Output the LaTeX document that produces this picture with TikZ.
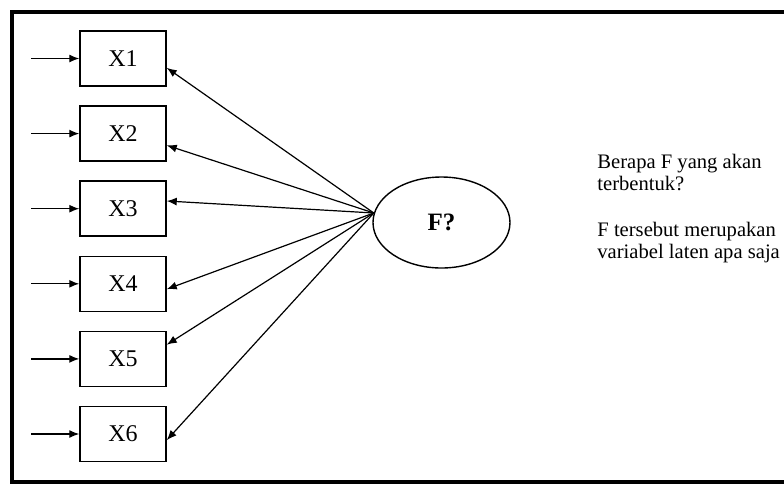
\documentclass[tikz,border=0pt]{standalone}
\usepackage{fontspec}
\setmainfont{Liberation Serif}
\usetikzlibrary{positioning, arrows.meta, shapes.geometric}

\begin{document}
\begin{tikzpicture}[
  x=0.5pt, y=-0.5pt,
  node distance=9.3pt,
  box/.style={draw, line width=0.75pt, minimum width=43pt, minimum height=27.5pt, inner sep=0pt, font=\fontsize{12}{14}\selectfont},
  latent/.style={draw, ellipse, line width=0.7pt, minimum width=68.5pt, minimum height=45.5pt, font=\fontsize{12.5}{15}\selectfont\bfseries},
  note/.style={align=left, inner sep=0pt, font=\fontsize{10.3}{11}\selectfont},
  arrow/.style={-{Latex[length=5pt, width=4pt]}, line width=0.6pt}
]
  \useasboundingbox (0,0) rectangle (784,484);
  % Frame
  \draw[line width=2pt] (784,12) -- (12,12) -- (12,482) -- (784,482);

  % Nodes
  \node[box] (x1) at (123,58.5) {X1};
  \node[box] (x2) [below=of x1] {X2};
  \node[box] (x3) [below=of x2] {X3};
  \node[box] (x4) [below=of x3] {X4};
  \node[box] (x5) [below=of x4] {X5};
  \node[box] (x6) [below=of x5] {X6};
  \node[latent] (f) at (441.5,222.5) {F?};
  \node[note, anchor=north west] (q) at (597,154) {Berapa F yang akan\\terbentuk?\\[12pt]F tersebut merupakan\\variabel laten apa saja};

  % Edges
  \foreach \i in {1,...,6} {
    \coordinate[left=24pt of x\i] (s\i);
    \draw[arrow] (s\i) -- (x\i);
  }
  \foreach \i/\a in {1/-12.5,2/-15,3/10,4/-7,5/18.6,6/-8.6}
    \draw[arrow] (f.172) -- (x\i.\a);

\end{tikzpicture}
\end{document}
